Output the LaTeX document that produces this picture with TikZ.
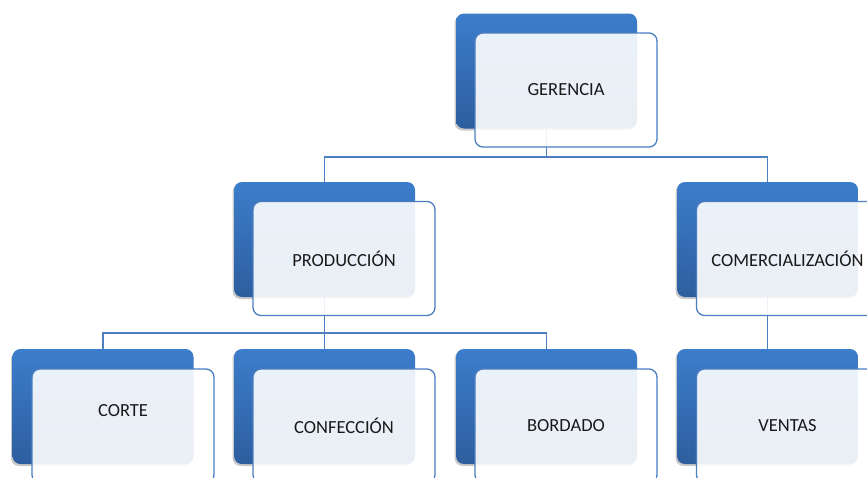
\documentclass[tikz,border=0pt]{standalone}
\usepackage{fontspec}
\setmainfont{Carlito}
\usetikzlibrary{shadows,backgrounds}
\definecolor{btop}{HTML}{3C7DCB}
\definecolor{bbot}{HTML}{2D5E9F}
\definecolor{edge}{HTML}{4A7EC0}
\definecolor{conn}{HTML}{4F7FBE}
\tikzset{
  backbox/.style={rounded corners=8pt, minimum width=181pt, minimum height=115pt, inner sep=0pt,
    top color=btop, bottom color=bbot, draw=none,
    drop shadow={shadow xshift=-1.5pt, shadow yshift=-2pt, opacity=0.35, fill=black!60}},
  frontbox/.style={rounded corners=8pt, minimum width=182pt, minimum height=114pt, inner sep=0pt,
    draw=edge, line width=1.3pt, fill=white, fill opacity=0.9, text opacity=1,
    font=\fontsize{18.5}{20}\selectfont, text=black!90},
  lbl/.style={font=\fontsize{18.5}{20}\selectfont, text=black!90, inner sep=0pt},
  connector/.style={draw=conn, line width=1.4pt}
}
\begin{document}
\begin{tikzpicture}[x=1pt,y=-1pt]
\useasboundingbox (0,0) rectangle (867,477);
\clip (0,0) rectangle (867,477);
% back boxes
\node[backbox] (g) at (546.5,71) {};
\node[backbox] (p) at (324.5,239.5) {};
\node[backbox] (c) at (767.5,239.5) {};
\node[backbox] (co) at (103,406.5) {};
\node[backbox] (cf) at (324.5,406.5) {};
\node[backbox] (bo) at (546.5,406.5) {};
\node[backbox] (ve) at (767.5,406.5) {};
% connectors behind
\coordinate (b1) at (546.5,157);
\coordinate (b2) at (324.5,333);
\begin{scope}[on background layer]
\draw[connector] (g.south) -- (b1);
\draw[connector] (b1) -| (p.north);
\draw[connector] (b1) -| (c.north);
\draw[connector] (p.south) -- (b2);
\draw[connector] (b2) -| (co.north);
\draw[connector] (b2) -- (cf.north);
\draw[connector] (b2) -| (bo.north);
\draw[connector] (c.south) -- (ve.north);
\end{scope}
% front boxes
\node[frontbox] (gf) at (566,90) {GERENCIA};
\node[frontbox] (pf) at (344,258.5) {PRODUCCIÓN};
\node[frontbox] (cfr) at (787.5,258.5) {COMERCIALIZACIÓN};
\node[frontbox] (cof) at (123,426) {};
\node[lbl] (cot) at (123,411) {CORTE};
\node[frontbox] (cff) at (344,426) {CONFECCIÓN};
\node[frontbox] (bof) at (566,426) {BORDADO};
\node[frontbox] (vef) at (787.5,426) {VENTAS};
\end{tikzpicture}
\end{document}
